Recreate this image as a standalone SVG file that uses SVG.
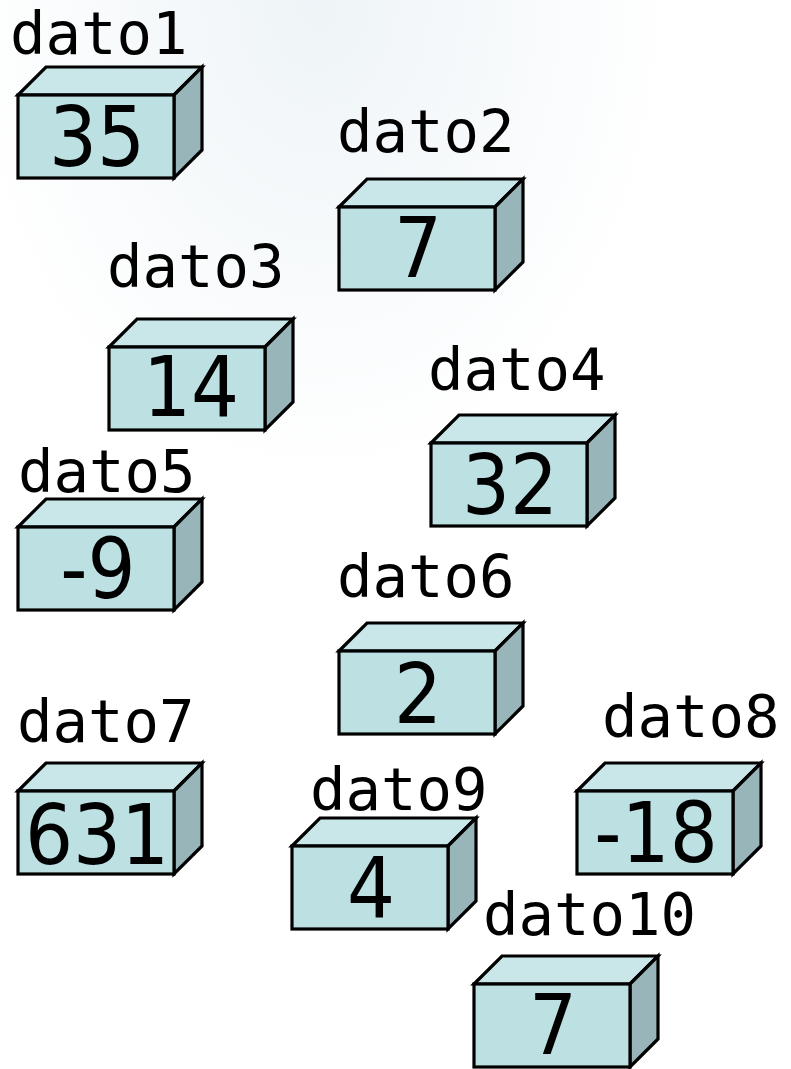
<svg xmlns="http://www.w3.org/2000/svg" xmlns:xlink="http://www.w3.org/1999/xlink" width="791" height="1069" viewBox="0 0 791 1069">
<style>
.front{fill:#bde0e3;stroke:#000;stroke-width:3.2;stroke-linejoin:miter}
.top{fill:#c9e6e9;stroke:#000;stroke-width:3.2;stroke-linejoin:miter}
.side{fill:#98b6b9;stroke:#000;stroke-width:3.2;stroke-linejoin:miter}
.lbl{font-family:"DejaVu Sans Mono","Liberation Mono",monospace;font-size:59px;fill:#000}
.num{font-family:"DejaVu Sans Condensed","DejaVu Sans",sans-serif;font-size:84px;fill:#000;text-anchor:middle}
</style>
<defs>
<radialGradient id="bg" cx="0.4" cy="0" r="0.45">
<stop offset="0" stop-color="#eef4f7"/>
<stop offset="1" stop-color="#ffffff"/>
</radialGradient>
<g id="box">
<polygon class="top" points="0,0 28,-28 184,-28 156,0"/>
<polygon class="side" points="156,0 184,-28 184,55 156,83"/>
<rect class="front" x="0" y="0" width="156" height="83"/>
</g>
</defs>
<rect width="791" height="1069" fill="url(#bg)"/>
<g id="dato1">
<text class="lbl" x="10" y="54">dato1</text>
<use xlink:href="#box" x="18" y="95"/>
<text class="num" x="97" y="166">35</text>
</g>
<g id="dato2">
<text class="lbl" x="337" y="152">dato2</text>
<use xlink:href="#box" x="339" y="207"/>
<text class="num" x="418" y="277">7</text>
</g>
<g id="dato3">
<text class="lbl" x="107" y="287">dato3</text>
<use xlink:href="#box" x="109" y="347"/>
<text class="num" x="191" y="416">14</text>
</g>
<g id="dato4">
<text class="lbl" x="428" y="390">dato4</text>
<use xlink:href="#box" x="431" y="443"/>
<text class="num" x="510" y="514">32</text>
</g>
<g id="dato5">
<text class="lbl" x="18" y="492">dato5</text>
<use xlink:href="#box" x="18" y="527"/>
<text class="num" x="98" y="598">-9</text>
</g>
<g id="dato6">
<text class="lbl" x="337" y="597">dato6</text>
<use xlink:href="#box" x="339" y="651"/>
<text class="num" x="418" y="723">2</text>
</g>
<g id="dato7">
<text class="lbl" x="17" y="742">dato7</text>
<use xlink:href="#box" x="18" y="791"/>
<text class="num" x="97" y="864">631</text>
</g>
<g id="dato8">
<text class="lbl" x="602" y="737">dato8</text>
<use xlink:href="#box" x="577" y="791"/>
<text class="num" x="656" y="862">-18</text>
</g>
<g id="dato9">
<text class="lbl" x="310" y="810">dato9</text>
<use xlink:href="#box" x="292" y="846"/>
<text class="num" x="371" y="917">4</text>
</g>
<g id="dato10">
<text class="lbl" x="483" y="935">dato10</text>
<use xlink:href="#box" x="474" y="984"/>
<text class="num" x="553" y="1054">7</text>
</g>
<g id="connectors"/>
</svg>
